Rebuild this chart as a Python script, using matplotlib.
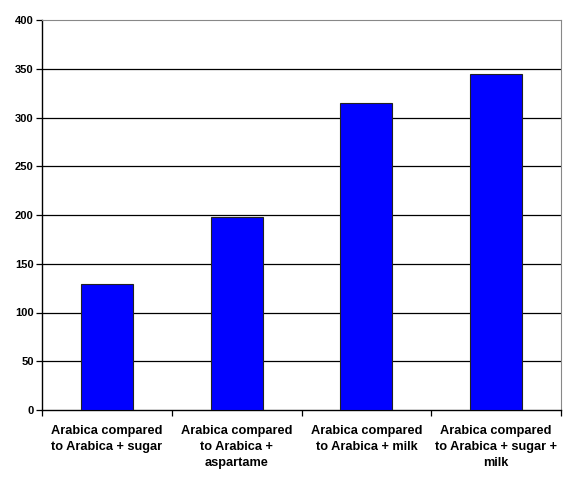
import matplotlib
matplotlib.use('Agg')
from matplotlib import pyplot as plt
import numpy as np

plt.rcParams['font.family'] = ['Liberation Sans', 'DejaVu Sans']
plt.rcParams['font.weight'] = 'bold'

categories = ['Arabica compared\nto Arabica + sugar',
              'Arabica compared\nto Arabica +\naspartame',
              'Arabica compared\nto Arabica + milk',
              'Arabica compared\nto Arabica + sugar +\nmilk']
values = [129, 198, 315, 345]
y_ticks = [0, 50, 100, 150, 200, 250, 300, 350, 400]

fig = plt.figure(figsize=(5.63, 4.84), dpi=100)
ax = fig.add_axes([42 / 563, 1 - 410 / 484, 519 / 563, 390 / 484])

x = np.arange(len(categories))
ax.bar(x, values, width=0.4, color='#0000FF', edgecolor='#222222', linewidth=0.8, zorder=3)

ax.set_xlim(-0.5, len(categories) - 0.5)
ax.set_ylim(0, 400)
ax.set_yticks(y_ticks)
ax.set_yticklabels([str(v) for v in y_ticks], fontsize=8, fontweight='bold')
for v in y_ticks[1:-1]:
    ax.axhline(v, color='black', lw=0.9, zorder=1)

# category ticks sit on the boundaries, labels in the middle
ax.set_xticks(np.arange(len(categories) + 1) - 0.5)
ax.set_xticklabels([])
ax.set_xticks(x, minor=True)
ax.set_xticklabels(categories, minor=True, fontsize=9.2, fontweight='bold', linespacing=1.45)
ax.tick_params(axis='x', which='minor', length=0, pad=11)
ax.tick_params(axis='x', which='major', length=4, width=0.9, direction='out')
ax.tick_params(axis='y', length=4, width=0.9, direction='out', pad=2)

ax.spines['left'].set_color('black')
ax.spines['bottom'].set_color('black')
ax.spines['left'].set_linewidth(1.0)
ax.spines['bottom'].set_linewidth(1.0)
ax.spines['top'].set_color('#888888')
ax.spines['right'].set_color('#888888')

fig.savefig('out.png', dpi=100)
